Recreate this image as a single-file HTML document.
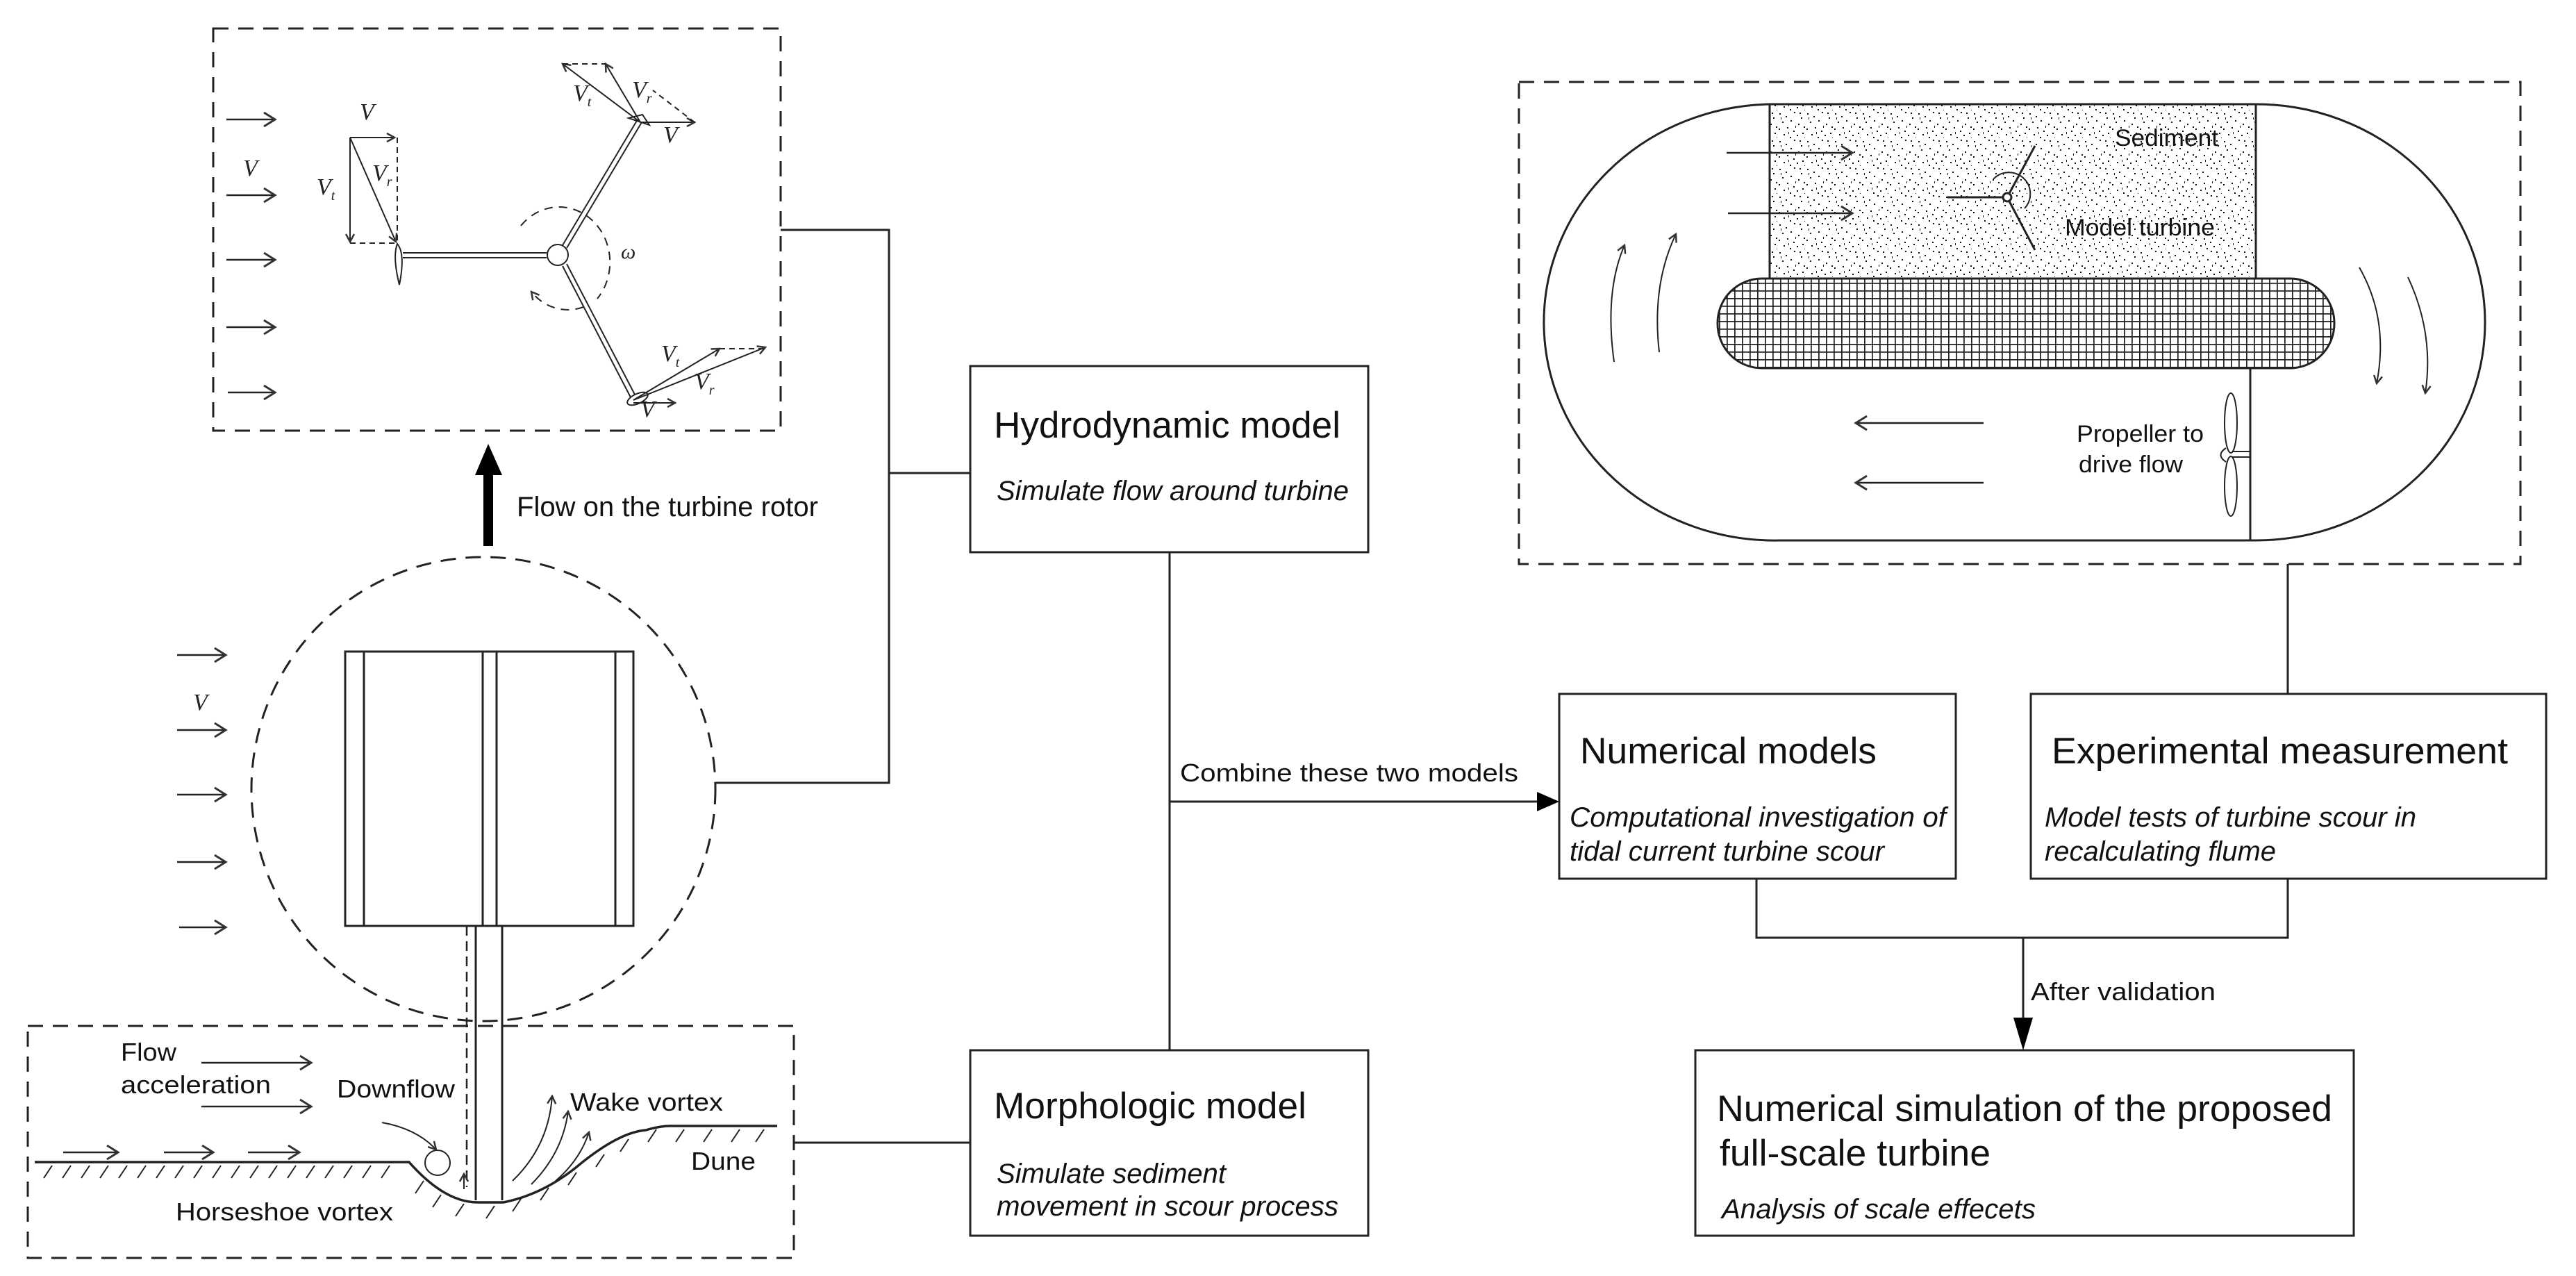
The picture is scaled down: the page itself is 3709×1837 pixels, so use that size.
<!DOCTYPE html>
<html><head><meta charset="utf-8"><style>html,body{margin:0;padding:0;background:#fff}svg{display:block}</style></head><body>
<svg width="3709" height="1837" viewBox="0 0 3709 1837" xmlns="http://www.w3.org/2000/svg" font-family="Liberation Sans, Arial, sans-serif" fill="none" stroke="#222" stroke-width="3">
<defs>
<marker id="open" markerWidth="24" markerHeight="24" refX="20" refY="12" orient="auto" markerUnits="userSpaceOnUse"><path d="M4,2 L20,12 L4,22" stroke="#333" stroke-width="3" fill="none"/></marker>
<marker id="sm" markerWidth="16" markerHeight="16" refX="14" refY="8" orient="auto" markerUnits="userSpaceOnUse"><path d="M3,2 L14,8 L3,14" stroke="#333" stroke-width="2.5" fill="none"/></marker>
<pattern id="dots" width="40" height="40" patternUnits="userSpaceOnUse">
<g fill="#111" stroke="none">
<rect x="2" y="3" width="2" height="2"/><rect x="11" y="7" width="2" height="2"/><rect x="23" y="1" width="2" height="2"/><rect x="33" y="9" width="2" height="2"/><rect x="6" y="15" width="2" height="2"/><rect x="18" y="13" width="2" height="2"/><rect x="29" y="18" width="2" height="2"/><rect x="37" y="22" width="2" height="2"/><rect x="1" y="25" width="2" height="2"/><rect x="13" y="23" width="2" height="2"/><rect x="22" y="28" width="2" height="2"/><rect x="8" y="33" width="2" height="2"/><rect x="17" y="37" width="2" height="2"/><rect x="27" y="34" width="2" height="2"/><rect x="35" y="31" width="2" height="2"/><rect x="31" y="2" width="2" height="2"/><rect x="15" y="30" width="1" height="3"/><rect x="25" y="21" width="1" height="3"/><rect x="4" y="9" width="1" height="3"/><rect x="38" y="38" width="1" height="1"/>
</g></pattern>
<pattern id="mesh" width="11" height="11" patternUnits="userSpaceOnUse"><path d="M0,0.5 H11 M0.5,0 V11" stroke="#222" stroke-width="2.5"/></pattern>
</defs>

<rect x="307" y="41" width="817" height="579" stroke-dasharray="22,14" stroke-width="3"/>
<g stroke-width="2.5" marker-end="url(#open)">
<line x1="326" y1="172" x2="396" y2="172"/><line x1="326" y1="281" x2="396" y2="281"/><line x1="326" y1="374" x2="396" y2="374"/><line x1="326" y1="471" x2="396" y2="471"/><line x1="328" y1="565" x2="396" y2="565"/>
</g>
<g font-family="Liberation Serif, serif" font-style="italic" fill="#222" stroke="none" font-size="34">
<text x="350" y="253">V</text><text x="518" y="172">V</text><text x="456" y="280">V<tspan font-size="20" dy="8">t</tspan></text><text x="536" y="260">V<tspan font-size="20" dy="8">r</tspan></text>
<text x="825" y="145">V<tspan font-size="20" dy="8">t</tspan></text><text x="910" y="140">V<tspan font-size="20" dy="8">r</tspan></text><text x="955" y="205">V</text>
<text x="952" y="520">V<tspan font-size="20" dy="8">t</tspan></text><text x="1000" y="560">V<tspan font-size="20" dy="8">r</tspan></text><text x="922" y="600">V</text>
<text x="894" y="372" font-size="30">ω</text>
</g>
<g stroke-width="2">
<line x1="504" y1="198" x2="568" y2="198" marker-end="url(#sm)"/>
<line x1="504" y1="198" x2="504" y2="348" marker-end="url(#sm)"/>
<line x1="504" y1="198" x2="570" y2="348" marker-end="url(#sm)"/>
<line x1="572" y1="198" x2="572" y2="350" stroke-dasharray="8,6"/>
<line x1="504" y1="350" x2="570" y2="350" stroke-dasharray="8,6"/>
<line x1="580" y1="364" x2="787" y2="364"/><line x1="580" y1="371" x2="787" y2="371"/>
<path d="M572,351 Q584,365 575,410 Q565,370 572,351Z"/>
<line x1="810" y1="353" x2="918" y2="172"/><line x1="816" y1="357" x2="924" y2="176"/>
<line x1="810" y1="383" x2="908" y2="572"/><line x1="816" y1="380" x2="914" y2="568"/>
<ellipse cx="803" cy="367" rx="15" ry="15" fill="#fff"/>
<path d="M905,170 L935,180 L925,165 Z"/>
<ellipse cx="918" cy="574" rx="16" ry="7" transform="rotate(-25 918 574)"/>
<line x1="922" y1="176" x2="1000" y2="176" marker-end="url(#sm)"/>
<line x1="922" y1="176" x2="810" y2="92" marker-end="url(#sm)"/>
<line x1="922" y1="176" x2="872" y2="92" marker-end="url(#sm)"/>
<line x1="810" y1="92" x2="872" y2="92" stroke-dasharray="8,6"/>
<line x1="1000" y1="176" x2="940" y2="130" stroke-dasharray="8,6"/>
<line x1="912" y1="576" x2="1102" y2="500" marker-end="url(#sm)"/>
<line x1="912" y1="576" x2="1036" y2="502" marker-end="url(#sm)"/>
<line x1="912" y1="580" x2="972" y2="580" marker-end="url(#sm)"/>
<line x1="1036" y1="502" x2="1100" y2="502" stroke-dasharray="8,6"/>
<path d="M750,325 A70,76 0 1 1 860,430" stroke-dasharray="12,9"/>
<path d="M840,442 A70,76 0 0 1 765,420" stroke-dasharray="12,9" marker-end="url(#sm)"/>
</g>

<rect x="696" y="680" width="14" height="106" fill="#000" stroke="none"/>
<path d="M684,684 L703,639 L723,684 Z" fill="#000" stroke="none"/>
<text x="744" y="743" font-size="40" fill="#111" stroke="none" textLength="434" lengthAdjust="spacingAndGlyphs">Flow  on the turbine rotor</text>

<circle cx="696" cy="1136" r="334" stroke-dasharray="22,14" stroke-width="3"/>
<g stroke-width="2.5" marker-end="url(#open)">
<line x1="255" y1="943" x2="325" y2="943"/><line x1="255" y1="1051" x2="325" y2="1051"/><line x1="255" y1="1144" x2="325" y2="1144"/><line x1="255" y1="1241" x2="325" y2="1241"/><line x1="258" y1="1335" x2="325" y2="1335"/>
</g>
<text x="278" y="1022" font-family="Liberation Serif, serif" font-style="italic" font-size="34" fill="#222" stroke="none">V</text>
<rect x="497" y="938" width="415" height="395" fill="#fff"/>
<line x1="524" y1="938" x2="524" y2="1333"/><line x1="695" y1="938" x2="695" y2="1333"/><line x1="715" y1="938" x2="715" y2="1333"/><line x1="886" y1="938" x2="886" y2="1333"/>
<line x1="685" y1="1333" x2="685" y2="1728"/><line x1="723" y1="1333" x2="723" y2="1728"/>
<line x1="672" y1="1333" x2="672" y2="1709" stroke-dasharray="14,8" stroke-width="2.5"/>

<rect x="40" y="1477" width="1103" height="334" stroke-dasharray="22,14" stroke-width="3"/>
<g fill="#111" stroke="none" font-size="36">
<text x="174" y="1527" textLength="80" lengthAdjust="spacingAndGlyphs">Flow</text>
<text x="174" y="1574" textLength="216" lengthAdjust="spacingAndGlyphs">acceleration</text>
<text x="485" y="1580" textLength="170" lengthAdjust="spacingAndGlyphs">Downflow</text>
<text x="821" y="1599" textLength="220" lengthAdjust="spacingAndGlyphs">Wake vortex</text>
<text x="995" y="1684" textLength="93" lengthAdjust="spacingAndGlyphs">Dune</text>
<text x="253" y="1757" textLength="313" lengthAdjust="spacingAndGlyphs">Horseshoe vortex</text>
</g>
<g stroke-width="2.5" marker-end="url(#open)">
<line x1="290" y1="1530" x2="448" y2="1530"/><line x1="290" y1="1593" x2="448" y2="1593"/>
<line x1="91" y1="1659" x2="170" y2="1659"/><line x1="236" y1="1659" x2="307" y2="1659"/><line x1="357" y1="1659" x2="431" y2="1659"/>
</g>
<path d="M50,1673 L589,1673 Q640,1731 688,1731 L725,1731 Q780,1720 829,1681 Q890,1630 930,1627 Q950,1621 965,1621 L1119,1621" stroke-width="3.5"/>
<path d="M75,1678 l-12,18 m39,-18 l-12,18 m39,-18 l-12,18 m39,-18 l-12,18 m39,-18 l-12,18 m39,-18 l-12,18 m39,-18 l-12,18 m39,-18 l-12,18 m39,-18 l-12,18 m39,-18 l-12,18 m39,-18 l-12,18 m39,-18 l-12,18 m39,-18 l-12,18 m39,-18 l-12,18 m39,-18 l-12,18 m39,-18 l-12,18 m39,-18 l-12,18 m39,-18 l-12,18 m39,-18 l-12,18 M610,1700 l-12,18 M635,1720 l-12,18 M668,1733 l-12,18 M712,1736 l-12,18 M750,1726 l-12,18 M790,1710 l-12,18 M830,1688 l-12,18 M870,1662 l-12,18 M905,1640 l-12,18 M945,1626 l-12,18 M985,1626 l-12,18 M1025,1626 l-12,18 M1065,1626 l-12,18 M1100,1626 l-12,18" stroke-width="2"/>
<circle cx="630" cy="1674" r="18" stroke-width="2"/>
<path d="M550,1616 Q600,1625 628,1655" stroke-width="2" marker-end="url(#sm)"/>
<path d="M668,1712 L668,1690" stroke-width="2" marker-end="url(#sm)"/>
<g stroke-width="2" marker-end="url(#sm)">
<path d="M738,1700 Q790,1650 795,1578"/><path d="M765,1705 Q810,1660 818,1600"/><path d="M800,1700 Q835,1670 848,1630"/>
</g>

<polyline points="1124,331 1280,331 1280,1127 1031,1127" stroke-width="3"/>
<line x1="1280" y1="681" x2="1397" y2="681"/>
<line x1="1143" y1="1645" x2="1397" y2="1645"/>

<rect x="1397" y="527" width="573" height="268"/>
<rect x="1397" y="1512" width="573" height="267"/>
<rect x="2245" y="999" width="571" height="266"/>
<rect x="2924" y="999" width="742" height="266"/>
<rect x="2441" y="1512" width="948" height="267"/>
<line x1="1684" y1="795" x2="1684" y2="1512"/>
<line x1="1684" y1="1154" x2="2215" y2="1154"/>
<path d="M2245,1154 L2213,1140 L2213,1168 Z" fill="#000" stroke="none"/>
<line x1="3294" y1="812" x2="3294" y2="999"/>
<polyline points="2529,1265 2529,1350 3294,1350 3294,1265"/>
<line x1="2913" y1="1350" x2="2913" y2="1470"/>
<path d="M2913,1512 L2899,1465 L2927,1465 Z" fill="#000" stroke="none"/>

<g fill="#111" stroke="none">
<text x="1431" y="630" font-size="53" textLength="499" lengthAdjust="spacingAndGlyphs">Hydrodynamic model</text>
<text x="1435" y="720" font-size="40" font-style="italic" textLength="507" lengthAdjust="spacingAndGlyphs">Simulate flow around turbine</text>
<text x="1431" y="1610" font-size="53" textLength="450" lengthAdjust="spacingAndGlyphs">Morphologic model</text>
<text x="1435" y="1703" font-size="40" font-style="italic" textLength="330" lengthAdjust="spacingAndGlyphs">Simulate sediment</text>
<text x="1435" y="1750" font-size="40" font-style="italic" textLength="492" lengthAdjust="spacingAndGlyphs">movement in scour process</text>
<text x="1699" y="1125" font-size="36" textLength="487" lengthAdjust="spacingAndGlyphs">Combine these two models</text>
<text x="2275" y="1099" font-size="53" textLength="427" lengthAdjust="spacingAndGlyphs">Numerical models</text>
<text x="2260" y="1190" font-size="40" font-style="italic" textLength="542" lengthAdjust="spacingAndGlyphs">Computational investigation of</text>
<text x="2260" y="1239" font-size="40" font-style="italic" textLength="453" lengthAdjust="spacingAndGlyphs">tidal current turbine scour</text>
<text x="2954" y="1099" font-size="53" textLength="657" lengthAdjust="spacingAndGlyphs">Experimental measurement</text>
<text x="2944" y="1190" font-size="40" font-style="italic" textLength="535" lengthAdjust="spacingAndGlyphs">Model tests of turbine scour in</text>
<text x="2944" y="1239" font-size="40" font-style="italic" textLength="333" lengthAdjust="spacingAndGlyphs">recalculating flume</text>
<text x="2924" y="1440" font-size="36" textLength="266" lengthAdjust="spacingAndGlyphs">After validation</text>
<text x="2472" y="1614" font-size="53" textLength="886" lengthAdjust="spacingAndGlyphs">Numerical simulation of the proposed</text>
<text x="2476" y="1678" font-size="53" textLength="390" lengthAdjust="spacingAndGlyphs">full-scale turbine</text>
<text x="2479" y="1754" font-size="40" font-style="italic" textLength="452" lengthAdjust="spacingAndGlyphs">Analysis of scale effecets</text>
</g>

<rect x="2187" y="118" width="1442" height="694" stroke-dasharray="22,14" stroke-width="3"/>
<path d="M2548,150 L3248,150 A330,314 0 0 1 3248,778 L2562,778 A332,314 0 0 1 2548,150 Z" stroke-width="3"/>
<rect x="2548" y="150" width="700" height="251" fill="url(#dots)" stroke-width="3"/>
<rect x="2473" y="401" width="888" height="129" rx="64" ry="64" fill="url(#mesh)" stroke-width="3"/>
<line x1="3240" y1="530" x2="3240" y2="778"/>
<ellipse cx="3212" cy="609" rx="9" ry="43" stroke-width="2"/><ellipse cx="3212" cy="700" rx="9" ry="43" stroke-width="2"/>
<path d="M3205,645 Q3190,655 3205,665" stroke-width="2"/>
<line x1="3214" y1="650" x2="3240" y2="650" stroke-width="2"/><line x1="3214" y1="658" x2="3240" y2="658" stroke-width="2"/>
<g stroke-width="2.5" marker-end="url(#open)">
<line x1="2486" y1="220" x2="2667" y2="220"/><line x1="2488" y1="307" x2="2667" y2="307"/>
<line x1="2856" y1="609" x2="2672" y2="609"/><line x1="2856" y1="695" x2="2672" y2="695"/>
</g>
<g stroke-width="2" marker-end="url(#sm)">
<path d="M2324,521 Q2310,420 2339,353"/><path d="M2389,507 Q2378,410 2413,337"/>
<path d="M3397,385 Q3440,460 3422,552"/><path d="M3467,399 Q3505,480 3492,566"/>
</g>
<g stroke-width="3">
<line x1="2804" y1="284" x2="2890" y2="284"/><line x1="2890" y1="284" x2="2930" y2="210"/><line x1="2890" y1="284" x2="2930" y2="360"/>
<circle cx="2890" cy="284" r="6" fill="#fff"/>
<path d="M2870,258 A30,30 0 0 1 2915,300" stroke-width="2"/>
</g>
<g fill="#111" stroke="none" font-size="34">
<text x="3045" y="210" textLength="149" lengthAdjust="spacingAndGlyphs">Sediment</text>
<text x="2973" y="339" textLength="216" lengthAdjust="spacingAndGlyphs">Model turbine</text>
<text x="2990" y="636" textLength="183" lengthAdjust="spacingAndGlyphs">Propeller to</text>
<text x="2993" y="680" textLength="150" lengthAdjust="spacingAndGlyphs">drive flow</text>
</g>
</svg>
</body></html>
